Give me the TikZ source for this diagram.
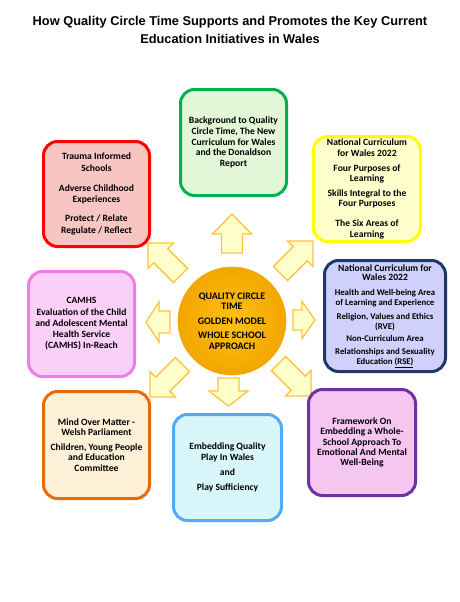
\documentclass[tikz,border=0pt]{standalone}
\usepackage{fontspec}
\setmainfont{Carlito}
\newfontfamily\titlefont{Liberation Sans}
\usetikzlibrary{shapes.geometric}
\definecolor{grnline}{HTML}{00B050}\definecolor{grnfill}{HTML}{E2F7D8}
\definecolor{redline}{HTML}{FF0000}\definecolor{redfill}{HTML}{F8C6C2}
\definecolor{yelline}{HTML}{FFFF00}\definecolor{yelfill}{HTML}{FFFFCC}
\definecolor{pnkline}{HTML}{F27BE6}\definecolor{pnkfill}{HTML}{FAD0F8}
\definecolor{navline}{HTML}{1F3864}\definecolor{navfill}{HTML}{D0D0FC}
\definecolor{orgline}{HTML}{E46C0A}\definecolor{orgfill}{HTML}{FEF0D6}
\definecolor{bluline}{HTML}{55AAF5}\definecolor{blufill}{HTML}{D8F6FA}
\definecolor{purline}{HTML}{7030A0}\definecolor{purfill}{HTML}{F5C6F2}
\definecolor{arrowline}{HTML}{FFC33A}\definecolor{arrowfill}{HTML}{FFFFCC}
\definecolor{circin}{HTML}{FFC013}\definecolor{circout}{HTML}{F2A600}
\newcommand\bx{\bfseries\fontsize{9.6}{10.7}\selectfont}
\newcommand\hd{\bfseries\fontsize{9.6}{10}\selectfont}
\newcommand\bd{\bfseries\fontsize{8.8}{9.8}\selectfont}
% tip x, tip y, angle, length, head width, shaft width, head length
\newcommand\qarrow[7]{%
  \begin{scope}[shift={(#1,#2)},rotate=#3]
    \draw[arr] (0,0) -- (-#7,#5/2) -- (-#7,#6/2) -- (-#4,#6/2) -- (-#4,-#6/2)
      -- (-#7,-#6/2) -- (-#7,-#5/2) -- cycle;
  \end{scope}}
\tikzset{
  box/.style={rectangle, rounded corners=14pt, line width=3pt, align=center,
    font=\bx, inner sep=2pt},
  arr/.style={draw=arrowline, fill=arrowfill, line width=1.3pt, line join=miter},
}
\begin{document}
\begin{tikzpicture}[x=1pt,y=1pt]
\useasboundingbox[fill=white] (0,0) rectangle (460,-602);
% title
\node[font=\titlefont\bfseries\fontsize{12.8}{18}\selectfont, align=center] (title) at (230,-30)
  {How Quality Circle Time Supports and Promotes the Key Current\\Education Initiatives in Wales};
% arrows
\qarrow{232}{-214}{90}{39}{39}{21}{20}
\qarrow{228.5}{-406}{-90}{28}{39}{21}{15}
\qarrow{146}{-322}{180}{24}{40}{22}{13}
\qarrow{315}{-320}{0}{22}{37}{20}{13}
\qarrow{148}{-243}{135}{46}{36}{20}{18}
\qarrow{313}{-241}{45}{46}{36}{20}{18}
\qarrow{150}{-397}{225}{46}{36}{20}{18}
\qarrow{311}{-396}{-45}{46}{36}{20}{18}
% centre
\node[circle, minimum size=108pt, inner sep=0pt, draw=circout, line width=0.6pt,
  inner color=circin, outer color=circout, align=center,
  font=\bfseries\fontsize{10}{10.5}\selectfont] (qct) at (232,-321)
  {QUALITY CIRCLE\\TIME\\[4pt]GOLDEN MODEL\\[4pt]WHOLE SCHOOL\\APPROACH};
% boxes
\node[box, draw=grnline, fill=grnfill, minimum width=106pt, minimum height=106pt] (bg) at (233.5,-142.5)
  {Background to Quality\\Circle Time, The New\\Curriculum for Wales\\and the Donaldson\\Report};
\node[box, draw=redline, fill=redfill, minimum width=106pt, minimum height=105pt,
  font=\bfseries\fontsize{9.6}{11.8}\selectfont] (trauma) at (96.5,-194)
  {Trauma Informed\\Schools\\[8pt]Adverse Childhood\\Experiences\\[7pt]Protect / Relate\\Regulate / Reflect};
\node[box, draw=yelline, fill=yelfill, minimum width=107pt, minimum height=105pt,
  font=\bfseries\fontsize{9.6}{10.4}\selectfont] (ncw) at (367,-189)
  {National Curriculum\\for Wales 2022\\[4.5pt]Four Purposes of\\Learning\\[4.5pt]Skills Integral to the\\Four Purposes\\[9.5pt]The Six Areas of\\Learning};
\node[box, draw=pnkline, fill=pnkfill, minimum width=106pt, minimum height=105pt,
  font=\bfseries\fontsize{9.6}{11}\selectfont] (camhs) at (81.5,-324)
  {CAMHS\\[1pt]Evaluation of the Child\\and Adolescent Mental\\Health Service\\(CAMHS) In-Reach};
\node[box, draw=navline, fill=navfill, minimum width=121pt, minimum height=111pt, font=\bd] (hwb) at (385,-316)
  {\hd National Curriculum for\\\hd Wales 2022\\[5pt]\bd Health and Well-being Area\\\bd of Learning and Experience\\[4pt]\bd Religion, Values and Ethics\\\bd (RVE)\\[3pt]\bd Non-Curriculum Area\\[3pt]\bd Relationships and Sexuality\\\bd Education \underline{(RSE)}};
\node[box, draw=orgline, fill=orgfill, minimum width=106pt, minimum height=107pt,
  font=\bfseries\fontsize{9.6}{10.5}\selectfont] (mom) at (96.5,-445)
  {Mind Over Matter -\\Welsh Parliament\\[4pt]Children, Young People\\and Education\\Committee};
\node[box, draw=bluline, fill=blufill, minimum width=108pt, minimum height=106pt,
  font=\bfseries\fontsize{9.6}{10.5}\selectfont] (play) at (227.5,-467.5)
  {Embedding Quality\\Play In Wales\\[4.5pt]and\\[4.5pt]Play Sufficiency};
\node[box, draw=purline, fill=purfill, minimum width=107pt, minimum height=106pt,
  font=\bfseries\fontsize{9.6}{10.2}\selectfont] (frame) at (362,-442.5)
  {Framework On\\Embedding a Whole-\\School Approach To\\Emotional And Mental\\Well-Being};
\end{tikzpicture}
\end{document}
